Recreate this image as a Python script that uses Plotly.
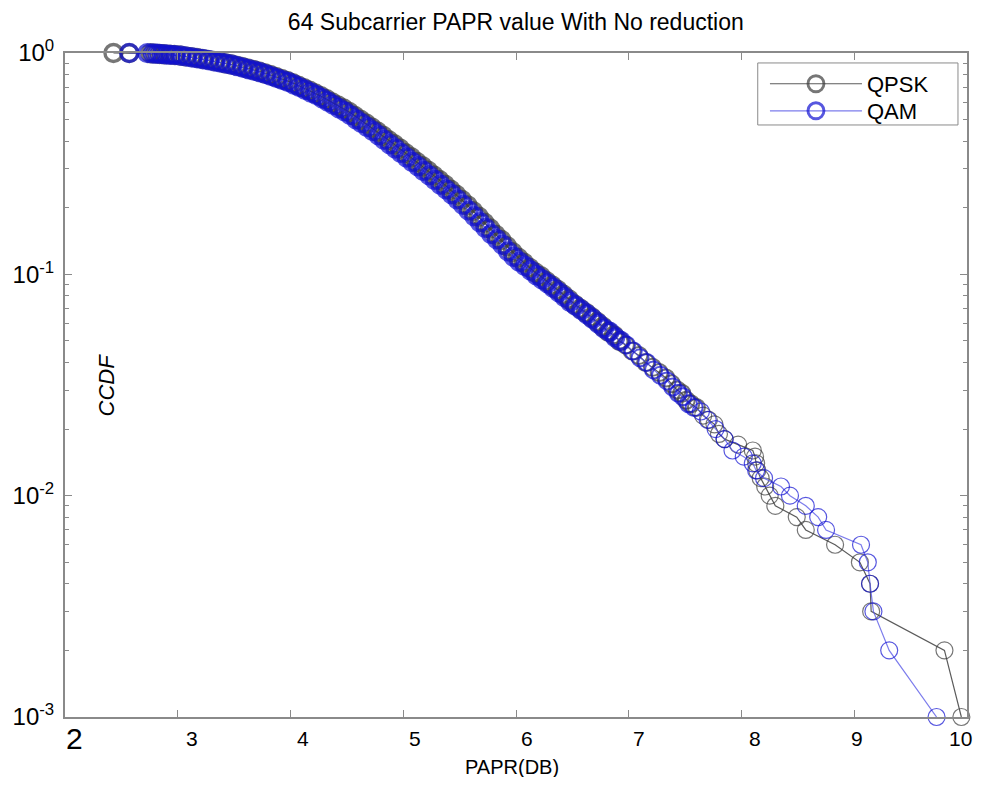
import plotly.graph_objects as go

# ---------------- data ----------------
qpsk_x = [2.43, 2.57, 2.76, 2.80, 2.84, 2.88, 2.93, 2.97, 3.02, 3.07, 3.12, 3.17, 3.22, 3.27,
          3.32, 3.37, 3.42, 3.47, 3.52, 3.57, 3.62, 3.67, 3.72, 3.77, 3.82, 3.87, 3.92, 3.97,
          4.02, 4.07, 4.12, 4.17, 4.22, 4.27, 4.32, 4.37, 4.42, 4.47, 4.52, 4.57, 4.62, 4.67,
          4.72, 4.77, 4.82, 4.87, 4.92, 4.97, 5.02, 5.07, 5.12, 5.17, 5.22, 5.27, 5.32, 5.37,
          5.42, 5.47, 5.52, 5.57, 5.62, 5.67, 5.72, 5.77, 5.82, 5.87, 5.92, 5.97, 6.02, 6.07,
          6.12, 6.17, 6.22, 6.27, 6.32, 6.37, 6.42, 6.47, 6.52, 6.57, 6.62, 6.67, 6.72, 6.77,
          6.82, 6.87, 6.92, 6.97, 7.03, 7.09, 7.15, 7.21, 7.27, 7.33, 7.38, 7.43, 7.47, 7.51,
          7.55, 7.60, 7.66, 7.71, 7.76, 7.80, 7.85, 7.97, 8.10, 8.12, 8.13, 8.14, 8.17, 8.21,
          8.25, 8.30, 8.49, 8.57, 8.83, 9.05, 9.14, 9.15, 9.80, 9.95]
qpsk_y = [1.000, 0.999, 0.997, 0.994, 0.990, 0.987, 0.983, 0.979, 0.974, 0.966, 0.958, 0.949,
          0.940, 0.931, 0.920, 0.910, 0.899, 0.889, 0.877, 0.864, 0.851, 0.838, 0.825, 0.810,
          0.795, 0.779, 0.763, 0.748, 0.731, 0.712, 0.694, 0.676, 0.657, 0.638, 0.618, 0.598,
          0.579, 0.561, 0.541, 0.520, 0.499, 0.480, 0.461, 0.442, 0.423, 0.404, 0.387, 0.370,
          0.353, 0.338, 0.322, 0.308, 0.294, 0.280, 0.267, 0.254, 0.241, 0.229, 0.217, 0.205,
          0.193, 0.182, 0.171, 0.161, 0.151, 0.143, 0.134, 0.126, 0.119, 0.113, 0.107, 0.102,
          0.098, 0.093, 0.089, 0.085, 0.081, 0.077, 0.073, 0.070, 0.067, 0.064, 0.061, 0.058,
          0.055, 0.053, 0.050, 0.048, 0.045, 0.043, 0.040, 0.038, 0.036, 0.034, 0.032, 0.030,
          0.029, 0.027, 0.026, 0.025, 0.023, 0.022, 0.021, 0.019, 0.018, 0.017, 0.016, 0.015,
          0.014, 0.013, 0.012, 0.011, 0.010, 0.009, 0.008, 0.007, 0.006, 0.005, 0.004, 0.003,
          0.002, 0.001]

qam_x = [2.57, 2.73, 2.78, 2.82, 2.86, 2.90, 2.94, 2.98, 3.03, 3.08, 3.13, 3.18, 3.23, 3.28,
         3.33, 3.38, 3.43, 3.48, 3.53, 3.58, 3.63, 3.68, 3.73, 3.78, 3.83, 3.88, 3.93, 3.98,
         4.03, 4.08, 4.13, 4.18, 4.23, 4.28, 4.33, 4.38, 4.43, 4.48, 4.53, 4.58, 4.63, 4.68,
         4.73, 4.78, 4.83, 4.88, 4.93, 4.98, 5.03, 5.08, 5.13, 5.18, 5.23, 5.28, 5.33, 5.38,
         5.43, 5.48, 5.53, 5.58, 5.63, 5.68, 5.73, 5.78, 5.83, 5.88, 5.93, 5.98, 6.03, 6.08,
         6.13, 6.18, 6.23, 6.28, 6.33, 6.38, 6.43, 6.48, 6.53, 6.58, 6.63, 6.68, 6.73, 6.78,
         6.83, 6.88, 6.93, 6.98, 7.04, 7.10, 7.16, 7.22, 7.28, 7.34, 7.39, 7.44, 7.48, 7.53,
         7.58, 7.64, 7.70, 7.77, 7.85, 7.92, 8.02, 8.10, 8.13, 8.20, 8.35, 8.43, 8.57, 8.68,
         8.75, 9.06, 9.12, 9.14, 9.17, 9.31, 9.73]
qam_y = [1.000, 0.999, 0.995, 0.992, 0.988, 0.985, 0.981, 0.978, 0.972, 0.963, 0.955, 0.946,
         0.937, 0.927, 0.916, 0.906, 0.895, 0.885, 0.872, 0.858, 0.845, 0.831, 0.818, 0.803,
         0.786, 0.770, 0.754, 0.739, 0.721, 0.701, 0.682, 0.663, 0.645, 0.625, 0.604, 0.583,
         0.563, 0.545, 0.524, 0.502, 0.482, 0.463, 0.444, 0.425, 0.405, 0.387, 0.370, 0.353,
         0.337, 0.322, 0.308, 0.293, 0.280, 0.267, 0.254, 0.242, 0.230, 0.218, 0.206, 0.194,
         0.183, 0.172, 0.162, 0.152, 0.144, 0.136, 0.127, 0.120, 0.114, 0.109, 0.104, 0.099,
         0.095, 0.091, 0.087, 0.083, 0.079, 0.075, 0.072, 0.069, 0.066, 0.063, 0.060, 0.057,
         0.055, 0.052, 0.050, 0.048, 0.045, 0.042, 0.040, 0.037, 0.035, 0.033, 0.031, 0.029,
         0.028, 0.026, 0.025, 0.024, 0.022, 0.020, 0.018, 0.016, 0.015, 0.014, 0.013, 0.012,
         0.011, 0.010, 0.009, 0.008, 0.007, 0.006, 0.005, 0.004, 0.003, 0.002, 0.001]

x_ticks = [2, 3, 4, 5, 6, 7, 8, 9, 10]
x_tick_labels = ["2", "3", "4", "5", "6", "7", "8", "9", "10"]
y_ticks = [0.001, 0.01, 0.1, 1]
y_tick_text = ["10<sup>-3</sup>", "10<sup>-2</sup>", "10<sup>-1</sup>", "10<sup>0</sup>"]
y_minor = [m * 10 ** e for e in (-3, -2, -1) for m in range(2, 10)]

title_text = "64 Subcarrier PAPR value With No reduction"
x_title = "PAPR(DB)"
y_title = "CCDF"

# ---------------- styling helpers ----------------
FONT = "Arial, Liberation Sans, sans-serif"
axis_color = "#8a8a8a"
# horizontal nudges (px) of the x tick labels, as placed in the reference image
x_label_nudge = [9, 14, 12, 12, 11, 10, 13, 3, -7]
x_label_size = [30, 21, 21, 21, 21, 21, 21, 21, 21]


def ring_widths(ys):
    # thicker ring outlines where the CCDF samples are packed densely
    return [3.4 if v >= 0.05 else (2.0 if v >= 0.025 else 1.2) for v in ys]


# ---------------- figure ----------------
fig = go.Figure()
fig.add_trace(go.Scatter(
    x=qpsk_x, y=qpsk_y, mode="lines+markers", name="QPSK", cliponaxis=False,
    legend="legend",
    line=dict(color="rgba(50,50,50,0.8)", width=1.2),
    marker=dict(symbol="circle-open", size=17, color="rgba(60,60,60,0.7)",
                line=dict(width=ring_widths(qpsk_y))),
))
fig.add_trace(go.Scatter(
    x=qam_x, y=qam_y, mode="lines+markers", name="QAM", cliponaxis=False,
    legend="legend2",
    line=dict(color="rgba(80,80,230,0.75)", width=1.2),
    marker=dict(symbol="circle-open", size=17, color="rgba(15,15,210,0.7)",
                line=dict(width=ring_widths(qam_y))),
))

fig.update_xaxes(
    range=[2, 10], tickmode="array", tickvals=x_ticks, showticklabels=False,
    automargin=False,
    showgrid=False, zeroline=False, showline=True, linecolor=axis_color, linewidth=2,
    mirror="ticks", ticks="inside", ticklen=7, tickcolor=axis_color, tickwidth=1,
)
fig.update_yaxes(
    type="log", range=[-3, 0], tickmode="array", tickvals=y_ticks, ticktext=y_tick_text,
    automargin=False,
    showgrid=False, zeroline=False, showline=True, linecolor=axis_color, linewidth=2,
    mirror="ticks", ticks="inside", ticklen=7, tickcolor=axis_color, tickwidth=1,
    ticklabelstandoff=4,
    minor=dict(tickmode="array", tickvals=y_minor, ticks="inside", ticklen=4,
               tickcolor=axis_color, showgrid=False),
    tickfont=dict(family=FONT, size=24, color="black"),
)

# x tick labels, placed on the x axis scale
for tv, tl, dx, fs in zip(x_ticks, x_tick_labels, x_label_nudge, x_label_size):
    fig.add_annotation(
        text=tl, x=tv, xref="x", y=-0.033, yref="paper", xshift=dx,
        showarrow=False, xanchor="center", yanchor="middle",
        font=dict(family=FONT, size=fs, color="black"),
    )

fig.add_annotation(
    text=y_title, xref="paper", yref="paper", x=0.046, y=0.5, showarrow=False,
    xanchor="center", yanchor="middle", textangle=-90,
    font=dict(family=FONT, size=22, color="black", style="italic"),
)
fig.add_annotation(
    text=x_title, xref="paper", yref="paper", x=0.496, y=-0.075, showarrow=False,
    xanchor="center", yanchor="middle",
    font=dict(family=FONT, size=20, color="black"),
)

# legend frame (opaque white box with grey border, as in the reference)
fig.add_shape(type="rect", xref="paper", yref="paper",
              x0=0.768, x1=0.990, y0=0.8916, y1=0.985,
              fillcolor="white", line=dict(color=axis_color, width=1), layer="above")

legend_common = dict(xanchor="left", yanchor="top", bgcolor="rgba(0,0,0,0)", borderwidth=0,
                     itemwidth=92, font=dict(family=FONT, size=22, color="black"))

# the page body has an 8px margin: the figure is sized/placed to compensate
fig.update_layout(
    width=971, height=769,
    margin=dict(l=57, r=12, t=45, b=60, autoexpand=False),
    paper_bgcolor="white", plot_bgcolor="white",
    title=dict(text=title_text, x=0.523, xanchor="center", y=0.982, yanchor="middle",
               font=dict(family=FONT, size=23, color="black")),
    showlegend=True,
    legend=dict(x=0.776, y=0.985, **legend_common),
    legend2=dict(x=0.776, y=0.9443, **legend_common),
    font=dict(family=FONT),
)

fig.write_html("out.html")
